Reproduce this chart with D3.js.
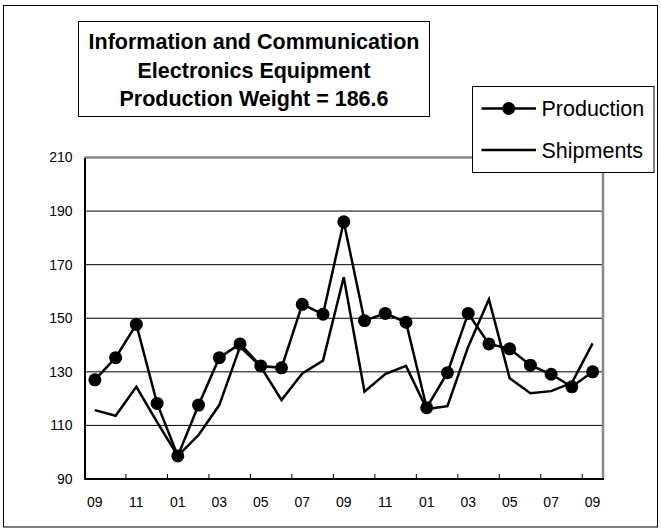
<!DOCTYPE html>
<html>
<head>
<meta charset="utf-8">
<script src="https://d3js.org/d3.v7.min.js"></script>
<style>
  body { margin: 0; background: #fff; }
  text { font-family: "Liberation Sans", Arial, sans-serif; fill: #000; }
</style>
</head>
<body>
<svg id="chart" width="661" height="532"></svg>
<script>
// months Sep 2008 .. Sep 2010
const months = ["09","10","11","12","01","02","03","04","05","06","07","08","09",
                "10","11","12","01","02","03","04","05","06","07","08","09"];
const production = [127.0, 135.3, 147.7, 118.2, 98.6, 117.6, 135.3, 140.4, 132.2, 131.5,
                    155.2, 151.5, 186.0, 149.1, 151.8, 148.5, 116.6, 129.7, 151.8, 140.4,
                    138.6, 132.5, 129.1, 124.4, 130.0];
const shipments = [115.7, 113.6, 124.4, 111.2, 98.6, 106.4, 117.6, 139.4, 131.9, 119.5,
                   129.4, 134.2, 165.3, 122.6, 129.2, 132.2, 116.1, 117.2, 139.4, 157.1,
                   127.6, 122.0, 122.8, 125.9, 140.6];
const yTicks = [90, 110, 130, 150, 170, 190, 210];
const titleLines = ["Information and Communication", "Electronics Equipment", "Production Weight = 186.6"];
const legendItems = ["Production", "Shipments"];

const svg = d3.select("#chart");
const plot = {left: 84.5, right: 603, top: 157.5, bottom: 479};

// outer frame
svg.append("rect")
    .attr("x", 3.5).attr("y", 5.5)
    .attr("width", 654).attr("height", 521.5)
    .attr("fill", "none").attr("stroke", "#000").attr("stroke-width", 1);

const xScale = d3.scaleBand()
    .domain(d3.range(months.length))
    .range([plot.left, plot.right]);

const yScale = d3.scaleLinear()
    .domain([90, 210])
    .range([plot.bottom, plot.top]);

const xc = i => xScale(i) + xScale.bandwidth() / 2;

// gridlines
svg.append("g").selectAll("line")
    .data(yTicks.filter(v => v > 90 && v < 210))
    .enter()
    .append("line")
        .attr("x1", plot.left).attr("x2", plot.right)
        .attr("y1", d => yScale(d)).attr("y2", d => yScale(d))
        .attr("stroke", "#000").attr("stroke-width", 1);

// top and right border (gray)
svg.append("path")
    .attr("d", "M" + plot.left + "," + yScale(210) + "H" + plot.right + "V" + plot.bottom)
    .attr("fill", "none").attr("stroke", "#888").attr("stroke-width", 2.5);

// y axis
const yAxis = svg.append("g")
    .attr("transform", "translate(" + plot.left + ",0)")
    .call(d3.axisLeft(yScale).tickValues(yTicks).tickSize(0).tickPadding(12));
yAxis.select(".domain").attr("stroke", "#000").attr("stroke-width", 2);
yAxis.selectAll("text")
    .style("font-family", "Liberation Sans, Arial, sans-serif")
    .style("font-size", "14px");

// x axis: ticks pointing inward at every other month boundary
const xAxis = svg.append("g")
    .attr("transform", "translate(0," + plot.bottom + ")");
xAxis.append("line")
    .attr("x1", plot.left).attr("x2", plot.right + 1)
    .attr("stroke", "#000").attr("stroke-width", 2);
xAxis.selectAll(".tk")
    .data(d3.range(2, months.length, 2))
    .enter()
    .append("line")
        .attr("class", "tk")
        .attr("x1", d => xScale(d)).attr("x2", d => xScale(d))
        .attr("y1", 0).attr("y2", -5)
        .attr("stroke", "#000").attr("stroke-width", 1);
xAxis.selectAll("text")
    .data(d3.range(0, months.length, 2))
    .enter()
    .append("text")
        .attr("x", d => xc(d))
        .attr("y", 28)
        .attr("text-anchor", "middle")
        .style("font-size", "14px")
        .text(d => months[d]);

const line = d3.line()
    .x((d, i) => xc(i))
    .y(d => yScale(d));

svg.append("path")
    .datum(shipments)
    .attr("d", line)
    .attr("fill", "none").attr("stroke", "#000").attr("stroke-width", 2.5)
    .attr("stroke-linejoin", "miter");

svg.append("path")
    .datum(production)
    .attr("d", line)
    .attr("fill", "none").attr("stroke", "#000").attr("stroke-width", 2.5);

svg.append("g").selectAll("circle")
    .data(production)
    .enter()
    .append("circle")
        .attr("cx", (d, i) => xc(i))
        .attr("cy", d => yScale(d))
        .attr("r", 6.5)
        .attr("fill", "#000");

// title box
const title = svg.append("g");
title.append("rect")
    .attr("x", 78.5).attr("y", 21.5)
    .attr("width", 351).attr("height", 95)
    .attr("fill", "#fff").attr("stroke", "#000").attr("stroke-width", 1);
title.selectAll("text")
    .data(titleLines)
    .enter()
    .append("text")
        .attr("x", 254)
        .attr("y", (d, i) => 49 + i * 28.7)
        .attr("text-anchor", "middle")
        .style("font-size", "21.5px")
        .style("font-weight", "bold")
        .text(d => d);

// legend
const legend = svg.append("g");
legend.append("rect")
    .attr("x", 472.5).attr("y", 86.5)
    .attr("width", 181.5).attr("height", 86)
    .attr("fill", "#fff").attr("stroke", "#000").attr("stroke-width", 1);
legendItems.forEach((name, i) => {
    const y = 108.5 + i * 41.5;
    legend.append("line")
        .attr("x1", 481.5).attr("x2", 536)
        .attr("y1", y).attr("y2", y)
        .attr("stroke", "#000").attr("stroke-width", 2.5);
    if (i === 0) {
        legend.append("circle")
            .attr("cx", 508.7).attr("cy", y).attr("r", 6.5)
            .attr("fill", "#000");
    }
    legend.append("text")
        .attr("x", 541.5).attr("y", y + 7.5)
        .style("font-size", "21.5px")
        .text(name);
});
</script>
</body>
</html>
